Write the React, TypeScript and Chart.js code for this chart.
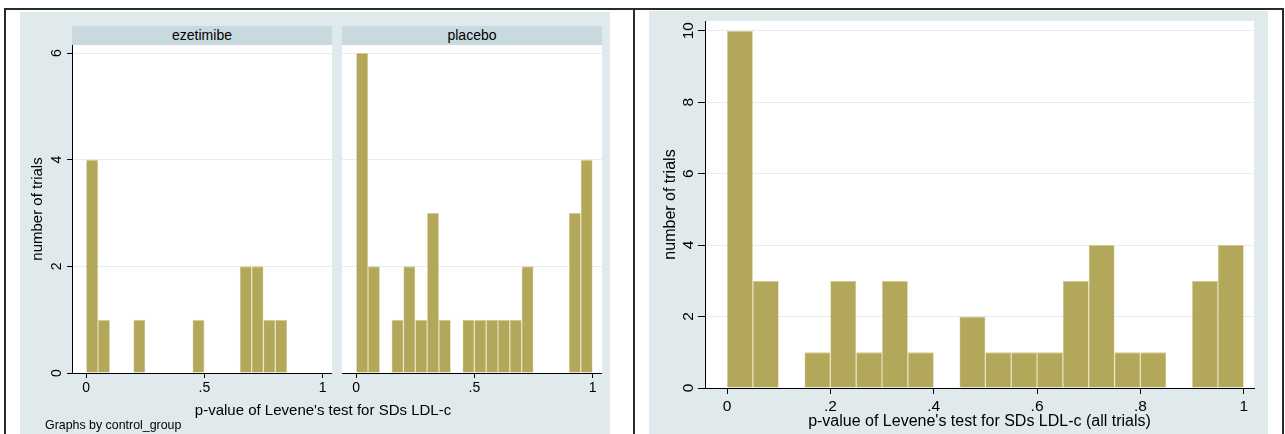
import React, { useEffect, useRef } from "react";
import { Chart, registerables } from "chart.js";
Chart.register(...registerables);

// ---------------- data ----------------
const binCenters = [0.025, 0.075, 0.125, 0.175, 0.225, 0.275, 0.325, 0.375, 0.425, 0.475, 0.525, 0.575, 0.625, 0.675, 0.725, 0.775, 0.825, 0.875, 0.925, 0.975];
const ezetimibeCounts = [4, 1, 0, 0, 1, 0, 0, 0, 0, 1, 0, 0, 0, 2, 2, 1, 1, 0, 0, 0];
const placeboCounts = [6, 2, 0, 1, 2, 1, 3, 1, 0, 1, 1, 1, 1, 1, 2, 0, 0, 0, 3, 4];
const allTrialsCounts = [10, 3, 0, 1, 3, 1, 3, 1, 0, 2, 1, 1, 1, 3, 4, 1, 1, 0, 3, 4];

const panelNames = ["ezetimibe", "placebo"];
const panelXTicks = [0, 0.5, 1];
const panelXTickLabels = ["0", ".5", "1"];
const panelYTicks = [0, 2, 4, 6];
const panelYTickLabels = ["0", "2", "4", "6"];
const allXTicks = [0, 0.2, 0.4, 0.6, 0.8, 1];
const allXTickLabels = ["0", ".2", ".4", ".6", ".8", "1"];
const allYTicks = [0, 2, 4, 6, 8, 10];
const allYTickLabels = ["0", "2", "4", "6", "8", "10"];

const yTitleText = "number of trials";
const panelXTitle = "p-value of Levene's test for SDs LDL-c";
const allXTitle = "p-value of Levene's test for SDs LDL-c (all trials)";
const byNote = "Graphs by control_group";

// ---------------- style ----------------
const FONT = "'Liberation Sans', Arial, Helvetica, sans-serif";
const BAR = "#b3a859";
const BAR_EDGE = "#d3cb8e";
const GRID = "#e4edef";
const BG = "#e0eaec";
const HEADER = "#c9d9e0";
const FRAME = "#2a2a2a";

Chart.defaults.font.family = FONT;

type HistProps = {
  left: number; top: number; width: number; height: number;
  padding: { top: number; right: number; bottom: number; left: number };
  yWidth: number; xHeight: number;
  counts: number[];
  xMin: number; xMax: number; yMax: number;
  xTicks: number[]; xTickLabels: string[];
  yTicks: number[]; yTickLabels: string[];
  showYAxis: boolean;
  yTitle?: string; yTitleSize?: number; yTitlePad?: number;
  xTitle?: string; xTitleSize?: number; xTitlePad?: number;
  tickSize: number; xTickLen: number; yTickLen: number; xTickPad: number; yLabelGap: number;
};

function Hist(p: HistProps) {
  const ref = useRef<HTMLCanvasElement>(null);
  useEffect(() => {
    const canvas = ref.current!;
    const rotY = {
      id: "rotY",
      afterDraw(chart: any) {
        if (!p.showYAxis) return;
        const ctx = chart.ctx;
        const ys = chart.scales.y;
        ctx.save();
        ctx.fillStyle = "#000";
        ctx.font = `${p.tickSize}px ${FONT}`;
        ctx.textAlign = "center";
        ctx.textBaseline = "alphabetic";
        p.yTicks.forEach((v, i) => {
          const y = ys.getPixelForValue(v);
          ctx.save();
          ctx.translate(chart.chartArea.left - p.yLabelGap, y);
          ctx.rotate(-Math.PI / 2);
          ctx.fillText(p.yTickLabels[i], 0, 0);
          ctx.restore();
        });
        ctx.restore();
      },
    };
    const chart = new Chart(canvas, {
      type: "bar",
      data: {
        datasets: [
          {
            data: binCenters.map((x, i) => ({ x, y: p.counts[i] })),
            backgroundColor: BAR,
            borderColor: BAR_EDGE,
            borderWidth: { top: 1, left: 0.6, right: 0.6, bottom: 0 },
            borderSkipped: "start",
            barPercentage: 1,
            categoryPercentage: 1,
            inflateAmount: 0,
          } as any,
        ],
      },
      options: {
        responsive: false,
        animation: false,
        devicePixelRatio: 1,
        layout: { padding: p.padding },
        plugins: { legend: { display: false }, tooltip: { enabled: false }, title: { display: false } },
        scales: {
          x: {
            type: "linear",
            min: p.xMin,
            max: p.xMax,
            offset: false,
            afterBuildTicks: (s: any) => { s.ticks = p.xTicks.map((v) => ({ value: v })); },
            afterFit: (s: any) => { s.height = p.xHeight; },
            grid: { drawOnChartArea: false, offset: false, tickLength: p.xTickLen, tickColor: "#000", color: "#000" },
            border: { display: true, color: "#000", width: 1 },
            ticks: {
              callback: (_v: any, i: number) => p.xTickLabels[i],
              color: "#000",
              font: { size: p.tickSize, family: FONT },
              padding: p.xTickPad,
              maxRotation: 0,
              minRotation: 0,
              autoSkip: false,
            },
            title: p.xTitle
              ? { display: true, text: p.xTitle, color: "#000", font: { size: p.xTitleSize, family: FONT }, padding: { top: 0, bottom: p.xTitlePad } }
              : { display: false },
          } as any,
          y: {
            type: "linear",
            min: 0,
            max: p.yMax,
            afterBuildTicks: (s: any) => { s.ticks = p.yTicks.map((v) => ({ value: v })); },
            afterFit: (s: any) => { s.width = p.yWidth; },
            grid: { color: GRID, tickColor: "#000", tickLength: p.yTickLen, drawTicks: p.showYAxis, lineWidth: 1 },
            border: { display: p.showYAxis, color: "#000", width: 1 },
            ticks: { display: false },
            title: p.yTitle
              ? { display: true, text: p.yTitle, color: "#000", font: { size: p.yTitleSize, family: FONT }, padding: { top: p.yTitlePad, bottom: 0 } }
              : { display: false },
          } as any,
        },
      },
      plugins: [rotY],
    });
    return () => chart.destroy();
  }, []);
  return (
    <canvas
      ref={ref}
      width={p.width}
      height={p.height}
      style={{ position: "absolute", left: p.left, top: p.top, width: p.width, height: p.height }}
    />
  );
}

const box = (left: number, top: number, width: number, height: number, bg: string): React.CSSProperties => ({
  position: "absolute", left, top, width, height, background: bg,
});

export default function App() {
  const panelCommon = {
    top: 45, width: 0, height: 389,
    padding: { top: 0, right: 0, bottom: 0, left: 0 },
    xHeight: 61,
    xMin: -0.06, xMax: 1.04, yMax: 6.15,
    xTicks: panelXTicks, xTickLabels: panelXTickLabels,
    yTicks: panelYTicks, yTickLabels: panelYTickLabels,
    tickSize: 14, xTickLen: 5, yTickLen: 5, xTickPad: 2, yLabelGap: 11.3,
  };
  const headerStyle = (left: number): React.CSSProperties => ({
    ...box(left, 26, 260, 19, HEADER),
    fontSize: 14, lineHeight: "19px", textAlign: "center", color: "#000",
  });
  return (
    <div style={{ position: "absolute", left: 0, top: 0, width: 1285, height: 434, background: "#fff", overflow: "hidden", fontFamily: FONT }}>
      {/* panel backgrounds */}
      <div style={box(20, 12, 590, 422, BG)} />
      <div style={box(649, 11, 619, 423, BG)} />
      {/* plot regions */}
      <div style={box(72, 45, 260, 328, "#fff")} />
      <div style={box(342, 45, 260, 328, "#fff")} />
      <div style={box(705, 21, 549, 367, "#fff")} />
      {/* headers */}
      <div style={headerStyle(72)}>{panelNames[0]}</div>
      <div style={headerStyle(342)}>{panelNames[1]}</div>
      {/* charts */}
      <Hist {...panelCommon} left={20} width={312} yWidth={52} counts={ezetimibeCounts} showYAxis={true}
        yTitle={yTitleText} yTitleSize={15} yTitlePad={8.7} />
      <Hist {...panelCommon} left={342} width={260} yWidth={0} counts={placeboCounts} showYAxis={false} />
      <Hist
        left={649} top={11} width={619} height={423}
        padding={{ top: 10, right: 14, bottom: 0, left: 0 }}
        yWidth={56} xHeight={46}
        counts={allTrialsCounts}
        xMin={-0.0426} xMax={1.0199} yMax={10.27}
        xTicks={allXTicks} xTickLabels={allXTickLabels}
        yTicks={allYTicks} yTickLabels={allYTickLabels}
        showYAxis={true}
        yTitle={yTitleText} yTitleSize={16} yTitlePad={12.4}
        xTitle={allXTitle} xTitleSize={16} xTitlePad={3}
        tickSize={15.5} xTickLen={6} yTickLen={7} xTickPad={3} yLabelGap={12.5}
      />
      {/* texts */}
      <div style={{ position: "absolute", left: 123, top: 402, width: 400, fontSize: 15, lineHeight: "15px", textAlign: "center", color: "#000", whiteSpace: "nowrap" }}>
        {panelXTitle}
      </div>
      <div style={{ position: "absolute", left: 45, top: 418.5, fontSize: 12.4, lineHeight: "13px", color: "#000", whiteSpace: "nowrap" }}>
        {byNote}
      </div>
      {/* frame lines */}
      <div style={box(4, 8, 1280, 2, FRAME)} />
      <div style={box(4, 8, 2, 426, FRAME)} />
      <div style={box(633, 8, 2, 426, FRAME)} />
      <div style={box(1282, 8, 2, 426, FRAME)} />
    </div>
  );
}
